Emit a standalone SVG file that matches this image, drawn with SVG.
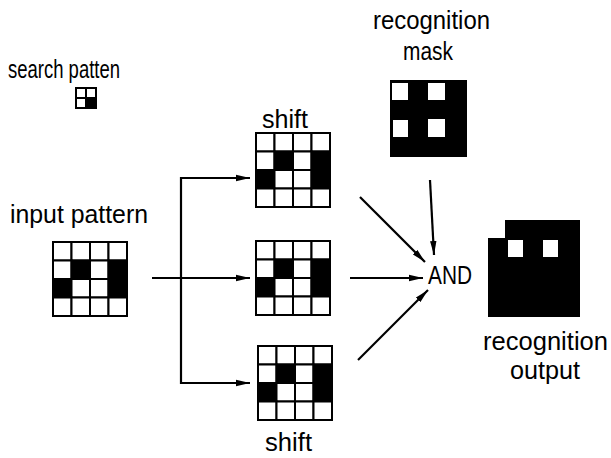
<svg xmlns="http://www.w3.org/2000/svg" width="611" height="458" viewBox="0 0 611 458">
<defs>
<style>
text{font-family:"Liberation Sans","DejaVu Sans",sans-serif;font-size:26px;fill:#000}
.c{fill:#fff;stroke:#000;stroke-width:2}
.b{fill:#000;stroke:#000;stroke-width:2}
.ln{fill:none;stroke:#000;stroke-width:2.2}
</style>
<marker id="ah" viewBox="0 0 14 8" refX="14" refY="4" markerWidth="14" markerHeight="8" markerUnits="userSpaceOnUse" orient="auto">
<path d="M0,0.8 L14,4 L0,7.2 Z" fill="#000"/>
</marker>
<g id="g4">
<rect class="c" x="0" y="0" width="18.5" height="18.5"/><rect class="c" x="18.5" y="0" width="18.5" height="18.5"/><rect class="c" x="37" y="0" width="18.5" height="18.5"/><rect class="c" x="55.5" y="0" width="18.5" height="18.5"/>
<rect class="c" x="0" y="18.5" width="18.5" height="18.5"/><rect class="b" x="18.5" y="18.5" width="18.5" height="18.5"/><rect class="c" x="37" y="18.5" width="18.5" height="18.5"/><rect class="b" x="55.5" y="18.5" width="18.5" height="18.5"/>
<rect class="b" x="0" y="37" width="18.5" height="18.5"/><rect class="c" x="18.5" y="37" width="18.5" height="18.5"/><rect class="c" x="37" y="37" width="18.5" height="18.5"/><rect class="b" x="55.5" y="37" width="18.5" height="18.5"/>
<rect class="c" x="0" y="55.5" width="18.5" height="18.5"/><rect class="c" x="18.5" y="55.5" width="18.5" height="18.5"/><rect class="c" x="37" y="55.5" width="18.5" height="18.5"/><rect class="c" x="55.5" y="55.5" width="18.5" height="18.5"/>
</g>
</defs>
<rect width="611" height="458" fill="#fff"/>

<g id="search-pattern">
<text x="8" y="78" textLength="112" lengthAdjust="spacingAndGlyphs">search patten</text>
<rect class="c" x="76" y="88" width="10" height="10"/><rect class="c" x="86" y="88" width="10" height="10"/>
<rect class="c" x="76" y="98" width="10" height="10"/><rect class="b" x="86" y="98" width="10" height="10"/>
</g>

<g id="input-pattern">
<text x="10" y="223" textLength="138" lengthAdjust="spacingAndGlyphs">input pattern</text>
<use href="#g4" x="53" y="242"/>
</g>

<g id="shift-top">
<text x="262" y="128" textLength="46" lengthAdjust="spacingAndGlyphs">shift</text>
<use href="#g4" x="256" y="133"/>
</g>

<g id="shift-middle">
<use href="#g4" x="256" y="241"/>
</g>

<g id="shift-bottom">
<use href="#g4" x="258" y="346"/>
<text x="265" y="451" textLength="47" lengthAdjust="spacingAndGlyphs">shift</text>
</g>

<g id="recognition-mask">
<text x="373" y="29" textLength="117" lengthAdjust="spacingAndGlyphs">recognition</text>
<text x="403" y="60" textLength="50" lengthAdjust="spacingAndGlyphs">mask</text>
<rect x="390" y="80" width="77" height="77" fill="#000"/>
<rect x="392" y="83" width="16" height="17" fill="#fff"/>
<rect x="428" y="83" width="17" height="17" fill="#fff"/>
<rect x="393" y="120" width="15" height="17" fill="#fff"/>
<rect x="428" y="119" width="17" height="18" fill="#fff"/>
</g>

<g id="and">
<text x="428" y="284" textLength="44" lengthAdjust="spacingAndGlyphs">AND</text>
</g>

<g id="recognition-output">
<path d="M505,220 H580 V317 H488 V238 H505 Z" fill="#000"/>
<rect x="508" y="240" width="15" height="17" fill="#fff"/>
<rect x="543" y="240" width="15" height="17" fill="#fff"/>
<text x="483" y="350" textLength="125" lengthAdjust="spacingAndGlyphs">recognition</text>
<text x="510" y="379" textLength="70" lengthAdjust="spacingAndGlyphs">output</text>
</g>

<g id="connectors">
<path class="ln" d="M250,178 H181 V383 H250" marker-end="url(#ah)"/>
<path class="ln" d="M181,178 H250" marker-end="url(#ah)"/>
<path class="ln" d="M152,278 H250" marker-end="url(#ah)"/>
<path class="ln" d="M360,197 L425,262" marker-end="url(#ah)"/>
<path class="ln" d="M430,180 L434,255" marker-end="url(#ah)"/>
<path class="ln" d="M350,278 H423" marker-end="url(#ah)"/>
<path class="ln" d="M358,360 L428,290" marker-end="url(#ah)"/>
</g>
</svg>
